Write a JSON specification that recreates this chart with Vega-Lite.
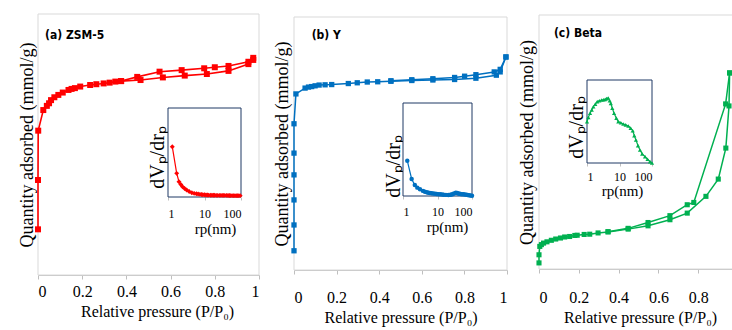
{
  "$schema": "https://vega.github.io/schema/vega-lite/v6.json",
  "width": 732,
  "height": 330,
  "autosize": "none",
  "padding": 0,
  "background": "white",
  "config": {
    "view": {"stroke": null},
    "axis": {"grid": false, "labelColor": "black", "titleColor": "black", "titleFontWeight": "normal", "labelFont": "Liberation Serif", "titleFont": "Liberation Serif"}
  },
  "datasets": {
    "a_main": [
      {"x":0,"y":17.5,"br":"ads","i":0},{"x":0,"y":36.4,"br":"ads","i":1},{"x":0.001,"y":55.3,"br":"ads","i":2},
      {"x":0.024,"y":63.2,"br":"ads","i":3},{"x":0.04,"y":64.8,"br":"ads","i":4},{"x":0.05,"y":65.8,"br":"ads","i":5},
      {"x":0.059,"y":67.0,"br":"ads","i":6},{"x":0.074,"y":68.1,"br":"ads","i":7},{"x":0.092,"y":69.0,"br":"ads","i":8},
      {"x":0.112,"y":69.9,"br":"ads","i":9},{"x":0.138,"y":70.9,"br":"ads","i":10},{"x":0.152,"y":71.3,"br":"ads","i":11},
      {"x":0.167,"y":71.6,"br":"ads","i":12},{"x":0.191,"y":72.2,"br":"ads","i":13},{"x":0.236,"y":72.8,"br":"ads","i":14},
      {"x":0.264,"y":73.1,"br":"ads","i":15},{"x":0.297,"y":73.4,"br":"ads","i":16},{"x":0.324,"y":73.7,"br":"ads","i":17},
      {"x":0.35,"y":74.1,"br":"ads","i":18},{"x":0.376,"y":74.3,"br":"ads","i":19},{"x":0.464,"y":74.7,"br":"ads","i":20},
      {"x":0.565,"y":75.7,"br":"ads","i":21},{"x":0.664,"y":76.4,"br":"ads","i":22},{"x":0.764,"y":77.0,"br":"ads","i":23},
      {"x":0.862,"y":78.2,"br":"ads","i":24},{"x":0.952,"y":80.8,"br":"ads","i":25},{"x":0.974,"y":82.4,"br":"ads","i":26},
      {"x":0.974,"y":83.2,"br":"des","i":0},{"x":0.952,"y":81.7,"br":"des","i":1},{"x":0.862,"y":80.1,"br":"des","i":2},
      {"x":0.8,"y":79.6,"br":"des","i":3},{"x":0.752,"y":79.2,"br":"des","i":4},{"x":0.65,"y":78.5,"br":"des","i":5},
      {"x":0.55,"y":77.9,"br":"des","i":6},{"x":0.449,"y":75.9,"br":"des","i":7},{"x":0.376,"y":74.3,"br":"des","i":8}
    ],
    "b_main": [
      {"x":0,"y":7.6,"br":"ads","i":0},{"x":0,"y":17.8,"br":"ads","i":1},{"x":0,"y":27.7,"br":"ads","i":2},
      {"x":0,"y":37.6,"br":"ads","i":3},{"x":0,"y":46.2,"br":"ads","i":4},{"x":0,"y":57.8,"br":"ads","i":5},
      {"x":0.009,"y":69.6,"br":"ads","i":6},{"x":0.052,"y":71.9,"br":"ads","i":7},{"x":0.068,"y":72.3,"br":"ads","i":8},
      {"x":0.083,"y":72.5,"br":"ads","i":9},{"x":0.099,"y":72.8,"br":"ads","i":10},{"x":0.118,"y":73.1,"br":"ads","i":11},
      {"x":0.146,"y":73.2,"br":"ads","i":12},{"x":0.177,"y":73.3,"br":"ads","i":13},{"x":0.255,"y":73.7,"br":"ads","i":14},
      {"x":0.297,"y":74.0,"br":"ads","i":15},{"x":0.344,"y":74.3,"br":"ads","i":16},{"x":0.393,"y":74.4,"br":"ads","i":17},
      {"x":0.455,"y":74.6,"br":"ads","i":18},{"x":0.553,"y":74.9,"br":"ads","i":19},{"x":0.652,"y":75.1,"br":"ads","i":20},
      {"x":0.754,"y":75.3,"br":"ads","i":21},{"x":0.854,"y":75.8,"br":"ads","i":22},{"x":0.95,"y":77.0,"br":"ads","i":23},
      {"x":0.968,"y":78.3,"br":"ads","i":24},{"x":0.995,"y":84.2,"br":"ads","i":25},
      {"x":0.995,"y":84.2,"br":"des","i":0},{"x":0.968,"y":79.3,"br":"des","i":1},{"x":0.94,"y":78.3,"br":"des","i":2},
      {"x":0.854,"y":77.2,"br":"des","i":3},{"x":0.801,"y":76.6,"br":"des","i":4},{"x":0.754,"y":76.1,"br":"des","i":5},
      {"x":0.652,"y":75.6,"br":"des","i":6},{"x":0.553,"y":75.2,"br":"des","i":7},{"x":0.455,"y":74.8,"br":"des","i":8}
    ],
    "c_main": [
      {"x":0,"y":2.4,"br":"ads","i":0},{"x":0,"y":5.6,"br":"ads","i":1},{"x":0.004,"y":8.9,"br":"ads","i":2},
      {"x":0.012,"y":9.6,"br":"ads","i":3},{"x":0.023,"y":10.2,"br":"ads","i":4},{"x":0.04,"y":10.7,"br":"ads","i":5},
      {"x":0.062,"y":11.3,"br":"ads","i":6},{"x":0.084,"y":11.8,"br":"ads","i":7},{"x":0.108,"y":12.2,"br":"ads","i":8},
      {"x":0.129,"y":12.6,"br":"ads","i":9},{"x":0.154,"y":12.8,"br":"ads","i":10},{"x":0.18,"y":13.2,"br":"ads","i":11},
      {"x":0.192,"y":13.3,"br":"ads","i":12},{"x":0.227,"y":13.6,"br":"ads","i":13},{"x":0.255,"y":13.7,"br":"ads","i":14},
      {"x":0.297,"y":14.2,"br":"ads","i":15},{"x":0.347,"y":14.6,"br":"ads","i":16},{"x":0.448,"y":15.7,"br":"ads","i":17},
      {"x":0.548,"y":17.0,"br":"ads","i":18},{"x":0.658,"y":19.4,"br":"ads","i":19},{"x":0.745,"y":22.0,"br":"ads","i":20},
      {"x":0.839,"y":28.6,"br":"ads","i":21},{"x":0.901,"y":35.4,"br":"ads","i":22},{"x":0.939,"y":47.6,"br":"ads","i":23},
      {"x":0.955,"y":64.2,"br":"ads","i":24},{"x":0.958,"y":77.2,"br":"ads","i":25},
      {"x":0.958,"y":77.2,"br":"des","i":0},{"x":0.938,"y":65.0,"br":"des","i":1},{"x":0.778,"y":26.2,"br":"des","i":2},
      {"x":0.745,"y":25.3,"br":"des","i":3},{"x":0.658,"y":21.0,"br":"des","i":4},{"x":0.548,"y":18.3,"br":"des","i":5},
      {"x":0.448,"y":16.0,"br":"des","i":6},{"x":0.347,"y":14.7,"br":"des","i":7}
    ],
    "a_ins": [
      {"x":1.31,"y":56.5},{"x":1.73,"y":26.6},{"x":2.0,"y":17.2},{"x":2.25,"y":14},{"x":2.5,"y":11.6},{"x":2.85,"y":9.6},
      {"x":3.25,"y":7.9},{"x":3.8,"y":6.2},{"x":4.5,"y":4.8},{"x":5.2,"y":4.1},{"x":6,"y":3.6},{"x":6.7,"y":3.3},{"x":7.5,"y":3.0},
      {"x":8.3,"y":2.8},{"x":9,"y":2.6},{"x":10,"y":2.5},{"x":11,"y":2.3},{"x":12,"y":2.2},{"x":13,"y":2.1},{"x":14.5,"y":2.0},{"x":16,"y":2.0},
      {"x":17.5,"y":1.9},{"x":19,"y":1.9},{"x":21,"y":1.8},{"x":23,"y":1.8},{"x":25.5,"y":1.8},{"x":28,"y":1.8},{"x":30.5,"y":1.8},
      {"x":33,"y":1.8},{"x":36,"y":1.8},{"x":40,"y":1.8},{"x":44,"y":1.7},{"x":48,"y":1.7},{"x":52,"y":1.6},{"x":57,"y":1.6},
      {"x":62,"y":1.5},{"x":68,"y":1.5},{"x":74,"y":1.5},{"x":80,"y":1.5},{"x":87,"y":1.5},{"x":95,"y":1.5}
    ],
    "b_ins": [
      {"x":1.33,"y":38},{"x":1.78,"y":18.3},{"x":2.2,"y":11.8},{"x":2.6,"y":9},{"x":3.1,"y":7.2},{"x":3.8,"y":5.5},
      {"x":4.3,"y":4.6},{"x":4.9,"y":4.0},{"x":5.4,"y":3.6},{"x":6,"y":3.2},{"x":6.7,"y":2.9},{"x":7.5,"y":2.6},{"x":8.5,"y":2.4},{"x":9.5,"y":2.2},
      {"x":10.7,"y":2.0},{"x":12,"y":1.8},{"x":13.5,"y":1.6},{"x":15,"y":1.4},{"x":17.5,"y":1.2},{"x":20.6,"y":1.1},{"x":23,"y":1.2},
      {"x":25,"y":1.5},{"x":27.5,"y":2.0},{"x":30,"y":2.6},{"x":34,"y":3.5},{"x":37,"y":3.2},{"x":40,"y":2.8},{"x":43.5,"y":2.5},
      {"x":47,"y":2.2},{"x":51,"y":2.0},{"x":56,"y":1.8},{"x":62,"y":1.6},{"x":68,"y":1.3},{"x":75,"y":1.1},{"x":82,"y":0.8},
      {"x":90,"y":0.6},{"x":100,"y":0.3}
    ],
    "c_ins": [
      {"x":1.0,"y":49.8},{"x":1.1,"y":55},{"x":1.24,"y":59.9},{"x":1.4,"y":64},{"x":1.57,"y":67.8},{"x":1.8,"y":71},
      {"x":2.07,"y":73.9},{"x":2.4,"y":75},{"x":2.83,"y":75.9},{"x":3.2,"y":76.2},{"x":3.6,"y":76.7},{"x":4.0,"y":77.5},
      {"x":4.5,"y":78.3},{"x":5.0,"y":75},{"x":5.4,"y":71.9},{"x":6,"y":66},{"x":6.8,"y":59.9},{"x":8,"y":54},
      {"x":9.2,"y":49.8},{"x":11,"y":48.5},{"x":13.1,"y":47},{"x":15.5,"y":46},{"x":18.7,"y":44.6},{"x":22,"y":42},
      {"x":25.5,"y":38.9},{"x":28.5,"y":33},{"x":32,"y":27.7},{"x":37,"y":21},{"x":42.7,"y":15.7},{"x":50,"y":11},
      {"x":61,"y":7.6},{"x":73,"y":4.5},{"x":87,"y":1.6},{"x":100,"y":0}
    ]
  },
  "layer": [
    {
      "data": {"values": [{}]},
      "mark": {"type": "rect", "fill": null, "stroke": "#D9D9D9", "strokeWidth": 1},
      "encoding": {
        "x": {"datum": 0, "type": "quantitative", "scale": {"domain": [0, 1], "range": [38, 259], "nice": false, "zero": false}, "axis": null},
        "x2": {"datum": 1},
        "y": {"datum": 0, "type": "quantitative", "scale": {"domain": [0, 100], "range": [275, 14], "nice": false, "zero": false}, "axis": null},
        "y2": {"datum": 100}
      }
    },
    {
      "data": {"name": "a_main"},
      "mark": {"type": "line", "color": "#FF0000", "strokeWidth": 1.6, "point": {"shape": "square", "filled": true, "size": 36, "color": "#FF0000"}},
      "encoding": {
        "x": {"field": "x", "type": "quantitative", "scale": {"domain": [0, 1], "range": [38, 259], "nice": false, "zero": false},
          "axis": {"orient": "bottom", "offset": -55, "values": [0, 0.2, 0.4, 0.6, 0.8, 1], "format": "~g", "domainColor": "#BFBFBF", "tickColor": "#BFBFBF", "tickSize": 4, "labelFontSize": 16, "labelPadding": 4, "title": "Relative pressure (P/P₀)", "titleFontSize": 16, "titlePadding": 4, "titleX": 157}},
        "y": {"field": "y", "type": "quantitative", "scale": {"domain": [0, 100], "range": [275, 14], "nice": false, "zero": false},
          "axis": {"orient": "left", "offset": -38, "domain": false, "ticks": false, "labels": false, "title": "Quantity adsorbed (mmol/g)", "titleFontSize": 18, "titlePadding": 2}},
        "detail": {"field": "br"},
        "order": {"field": "i", "type": "quantitative"}
      }
    },
    {
      "data": {"values": [{"label": "(a) ZSM-5"}]},
      "mark": {"type": "text", "align": "left", "baseline": "middle", "font": "DejaVu Sans Condensed, Lato, sans-serif", "fontWeight": "bold", "fontSize": 12, "color": "black"},
      "encoding": {
        "x": {"datum": 0.032, "type": "quantitative", "scale": {"domain": [0, 1], "range": [38, 259], "nice": false, "zero": false}, "axis": null},
        "y": {"datum": 92, "type": "quantitative", "scale": {"domain": [0, 100], "range": [275, 14], "nice": false, "zero": false}, "axis": null},
        "text": {"field": "label"}
      }
    },
    {
      "data": {"values": [{}]},
      "mark": {"type": "rect", "fill": "white", "stroke": "#1F3864", "strokeWidth": 1},
      "encoding": {
        "x": {"datum": 1, "type": "quantitative", "scale": {"type": "log", "domain": [1, 100], "range": [168, 241], "nice": false}, "axis": null},
        "x2": {"datum": 100},
        "y": {"datum": 0, "type": "quantitative", "scale": {"domain": [0, 100], "range": [197, 108], "nice": false, "zero": false}, "axis": null},
        "y2": {"datum": 100}
      }
    },
    {
      "data": {"name": "a_ins"},
      "mark": {"type": "line", "color": "#FF0000", "strokeWidth": 1.2, "point": {"shape": "diamond", "filled": true, "size": 24, "color": "#FF0000"}},
      "encoding": {
        "x": {"field": "x", "type": "quantitative", "scale": {"type": "log", "domain": [1, 100], "range": [168, 241], "nice": false},
          "axis": {"orient": "bottom", "offset": -133, "values": [1, 10, 100], "format": "~g", "domain": false, "tickColor": "#BFBFBF", "tickSize": 3, "labelFontSize": 12, "labelPadding": 8, "title": "rp(nm)", "titleFontSize": 15, "titlePadding": 2, "titleX": 215}},
        "y": {"field": "y", "type": "quantitative", "scale": {"domain": [0, 100], "range": [197, 108], "nice": false, "zero": false},
          "axis": {"orient": "left", "offset": -168, "domain": false, "ticks": false, "labels": false, "title": "dVₚ/drₚ", "titleFontSize": 20, "titlePadding": 1, "titleY": 157}}
      }
    },
    {
      "data": {"values": [{}]},
      "mark": {"type": "rect", "fill": null, "stroke": "#D9D9D9", "strokeWidth": 1},
      "encoding": {
        "x": {"datum": 0, "type": "quantitative", "scale": {"domain": [0, 1], "range": [294, 507], "nice": false, "zero": false}, "axis": null},
        "x2": {"datum": 1},
        "y": {"datum": 0, "type": "quantitative", "scale": {"domain": [0, 100], "range": [270, 17], "nice": false, "zero": false}, "axis": null},
        "y2": {"datum": 100}
      }
    },
    {
      "data": {"name": "b_main"},
      "mark": {"type": "line", "color": "#0070C0", "strokeWidth": 1.5, "point": {"shape": "square", "filled": true, "size": 28, "color": "#0070C0"}},
      "encoding": {
        "x": {"field": "x", "type": "quantitative", "scale": {"domain": [0, 1], "range": [294, 507], "nice": false, "zero": false},
          "axis": {"orient": "bottom", "offset": -60, "values": [0, 0.2, 0.4, 0.6, 0.8, 1], "format": "~g", "domainColor": "#BFBFBF", "tickColor": "#BFBFBF", "tickSize": 4, "labelFontSize": 16, "labelPadding": 15, "title": "Relative pressure (P/P₀)", "titleFontSize": 16, "titlePadding": 4}},
        "y": {"field": "y", "type": "quantitative", "scale": {"domain": [0, 100], "range": [270, 17], "nice": false, "zero": false},
          "axis": {"orient": "left", "offset": -294, "domain": false, "ticks": false, "labels": false, "title": "Quantity adsorbed (mmol/g)", "titleFontSize": 18, "titlePadding": 3}},
        "detail": {"field": "br"},
        "order": {"field": "i", "type": "quantitative"}
      }
    },
    {
      "data": {"values": [{"label": "(b) Y"}]},
      "mark": {"type": "text", "align": "left", "baseline": "middle", "font": "DejaVu Sans Condensed, Lato, sans-serif", "fontWeight": "bold", "fontSize": 12, "color": "black"},
      "encoding": {
        "x": {"datum": 0.083, "type": "quantitative", "scale": {"domain": [0, 1], "range": [294, 507], "nice": false, "zero": false}, "axis": null},
        "y": {"datum": 93, "type": "quantitative", "scale": {"domain": [0, 100], "range": [270, 17], "nice": false, "zero": false}, "axis": null},
        "text": {"field": "label"}
      }
    },
    {
      "data": {"values": [{}]},
      "mark": {"type": "rect", "fill": "white", "stroke": "#1F3864", "strokeWidth": 1},
      "encoding": {
        "x": {"datum": 1, "type": "quantitative", "scale": {"type": "log", "domain": [1, 100], "range": [403, 472], "nice": false}, "axis": null},
        "x2": {"datum": 100},
        "y": {"datum": 0, "type": "quantitative", "scale": {"domain": [0, 100], "range": [196, 103], "nice": false, "zero": false}, "axis": null},
        "y2": {"datum": 100}
      }
    },
    {
      "data": {"name": "b_ins"},
      "mark": {"type": "line", "color": "#0070C0", "strokeWidth": 1.2, "point": {"shape": "circle", "filled": true, "size": 20, "color": "#0070C0"}},
      "encoding": {
        "x": {"field": "x", "type": "quantitative", "scale": {"type": "log", "domain": [1, 100], "range": [403, 472], "nice": false},
          "axis": {"orient": "bottom", "offset": -134, "values": [1, 10, 100], "format": "~g", "domain": false, "tickColor": "#BFBFBF", "tickSize": 3, "labelFontSize": 12, "labelPadding": 7, "title": "rp(nm)", "titleFontSize": 15, "titlePadding": 2, "titleX": 447}},
        "y": {"field": "y", "type": "quantitative", "scale": {"domain": [0, 100], "range": [196, 103], "nice": false, "zero": false},
          "axis": {"orient": "left", "offset": -403, "domain": false, "ticks": false, "labels": false, "title": "dVₚ/drₚ", "titleFontSize": 20, "titlePadding": 0, "titleY": 166}}
      }
    },
    {
      "data": {"values": [{}]},
      "mark": {"type": "rect", "fill": null, "stroke": "#D9D9D9", "strokeWidth": 1},
      "encoding": {
        "x": {"datum": 0, "type": "quantitative", "scale": {"domain": [0, 0.97], "range": [539, 732], "nice": false, "zero": false}, "axis": null},
        "x2": {"datum": 1.0},
        "y": {"datum": 0, "type": "quantitative", "scale": {"domain": [0, 100], "range": [269, 15], "nice": false, "zero": false}, "axis": null},
        "y2": {"datum": 100}
      }
    },
    {
      "data": {"name": "c_main"},
      "mark": {"type": "line", "color": "#00B050", "strokeWidth": 1.5, "point": {"shape": "square", "filled": true, "size": 26, "color": "#00B050"}},
      "encoding": {
        "x": {"field": "x", "type": "quantitative", "scale": {"domain": [0, 0.97], "range": [539, 732], "nice": false, "zero": false},
          "axis": {"orient": "bottom", "offset": -61, "values": [0, 0.2, 0.4, 0.6, 0.8], "format": "~g", "domainColor": "#BFBFBF", "tickColor": "#BFBFBF", "tickSize": 4, "labelFontSize": 16, "labelPadding": 16, "title": "Relative pressure (P/P₀)", "titleFontSize": 16, "titlePadding": 4, "titleX": 640}},
        "y": {"field": "y", "type": "quantitative", "scale": {"domain": [0, 100], "range": [269, 15], "nice": false, "zero": false},
          "axis": {"orient": "left", "offset": -539, "domain": false, "ticks": false, "labels": false, "title": "Quantity adsorbed (mmol/g)", "titleFontSize": 18, "titlePadding": 3}},
        "detail": {"field": "br"},
        "order": {"field": "i", "type": "quantitative"}
      }
    },
    {
      "data": {"values": [{"label": "(c) Beta"}]},
      "mark": {"type": "text", "align": "left", "baseline": "middle", "font": "DejaVu Sans Condensed, Lato, sans-serif", "fontWeight": "bold", "fontSize": 12, "color": "black"},
      "encoding": {
        "x": {"datum": 0.075, "type": "quantitative", "scale": {"domain": [0, 0.97], "range": [539, 732], "nice": false, "zero": false}, "axis": null},
        "y": {"datum": 93, "type": "quantitative", "scale": {"domain": [0, 100], "range": [269, 15], "nice": false, "zero": false}, "axis": null},
        "text": {"field": "label"}
      }
    },
    {
      "data": {"values": [{}]},
      "mark": {"type": "rect", "fill": "white", "stroke": "#1F3864", "strokeWidth": 1},
      "encoding": {
        "x": {"datum": 1, "type": "quantitative", "scale": {"type": "log", "domain": [1, 100], "range": [587, 652], "nice": false}, "axis": null},
        "x2": {"datum": 100},
        "y": {"datum": 0, "type": "quantitative", "scale": {"domain": [0, 100], "range": [163, 80], "nice": false, "zero": false}, "axis": null},
        "y2": {"datum": 100}
      }
    },
    {
      "data": {"name": "c_ins"},
      "mark": {"type": "line", "color": "#00B050", "strokeWidth": 1.2, "point": {"shape": "triangle-up", "filled": true, "size": 18, "color": "#00B050"}},
      "encoding": {
        "x": {"field": "x", "type": "quantitative", "scale": {"type": "log", "domain": [1, 100], "range": [587, 652], "nice": false},
          "axis": {"orient": "bottom", "offset": -167, "values": [1, 10, 100], "format": "~g", "domain": false, "tickColor": "#BFBFBF", "tickSize": 3, "labelFontSize": 12, "labelPadding": 5, "title": "rp(nm)", "titleFontSize": 15, "titlePadding": 1, "titleX": 622}},
        "y": {"field": "y", "type": "quantitative", "scale": {"domain": [0, 100], "range": [163, 80], "nice": false, "zero": false},
          "axis": {"orient": "left", "offset": -587, "domain": false, "ticks": false, "labels": false, "title": "dVₚ/drₚ", "titleFontSize": 20, "titlePadding": 1, "titleY": 127}}
      }
    }
  ],
  "resolve": {
    "scale": {"x": "independent", "y": "independent"},
    "axis": {"x": "independent", "y": "independent"}
  }
}
